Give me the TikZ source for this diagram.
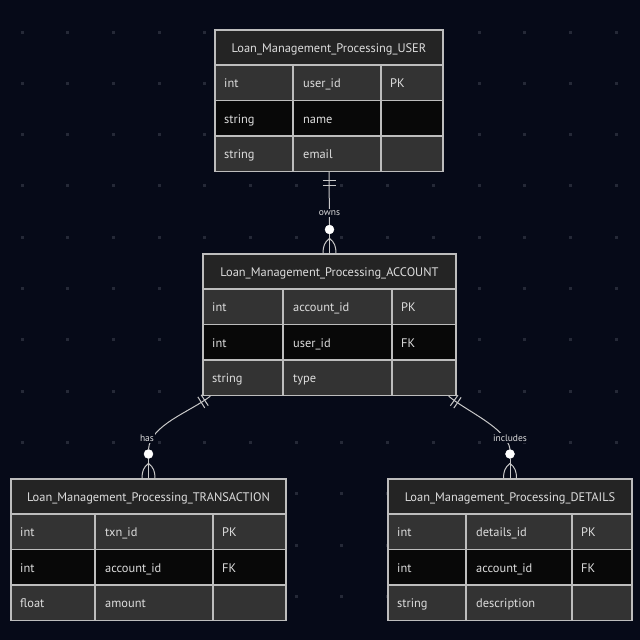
\documentclass[tikz,border=0pt]{standalone}
\usepackage{fontspec}
\setmainfont{PT Sans}
\usetikzlibrary{calc,fit,decorations.markings}
\definecolor{bgc}{HTML}{060A18}
\definecolor{dotc}{HTML}{252937}
\definecolor{hdrc}{HTML}{242424}
\definecolor{rowodd}{HTML}{333333}
\definecolor{roweven}{HTML}{080808}
\definecolor{bordc}{HTML}{BDBDBD}
\definecolor{txtc}{HTML}{DDDDDD}
\definecolor{linec}{HTML}{C8C8C8}
\tikzset{
  titletext/.style={text=txtc, font=\fontsize{12.4}{14}\selectfont, inner sep=0pt, anchor=base},
  celltext/.style={text=txtc, font=\fontsize{12.4}{14}\selectfont, inner sep=0pt, anchor=base west},
  gridline/.style={draw=bordc, line width=1.2pt},
  rel/.style={draw=linec, line width=1pt},
  rellabel/.style={text=txtc, font=\fontsize{9.5}{11}\selectfont, fill=bgc, inner sep=1.2pt},
  relcirc/.style={circle, fill=white, draw=white, minimum size=9pt, inner sep=0pt},
  onebars/.style={postaction={decorate}, decoration={markings,
     mark=at position 7pt with {\draw[rel] (0,-6.5pt) -- (0,6.5pt);},
     mark=at position 11pt with {\draw[rel] (0,-6.5pt) -- (0,6.5pt);}}}
}
% #1 id, #2 left, #3 col1, #4 col2, #5 right, #6 top, #7 title, #8 rows
\newcommand\erentity[8]{%
  \fill[hdrc] (#2,#6) rectangle (#5,#6+35);
  \node[titletext] (#1-title) at ({(#2+#5)/2},#6+22.5) {#7};
  \foreach \ta/\tb/\tc [count=\ri] in {#8} {%
    \pgfmathsetmacro\ytop{#6+35+(\ri-1)*35.5}
    \ifodd\ri \def\rowc{rowodd}\else\def\rowc{roweven}\fi
    \fill[fill=\rowc] (#2,\ytop) rectangle (#5,\ytop+35.5);
    \node[celltext] (#1-\ri-a) at (#2+9,\ytop+22.5) {\ta};
    \node[celltext] (#1-\ri-b) at (#3+10,\ytop+22.5) {\tb};
    \node[celltext] (#1-\ri-c) at (#4+9,\ytop+22.5) {\tc};
  }
  \draw[gridline] (#2,#6+35) -- (#5,#6+35)
     (#2,#6+70.5) -- (#5,#6+70.5)
     (#2,#6+106) -- (#5,#6+106)
     (#3,#6+35) -- (#3,#6+141.5)
     (#4,#6+35) -- (#4,#6+141.5);
  \node[inner sep=0pt, fit={(#2,#6) (#5,#6+141.5)}, draw=bordc, line width=1.3pt] (#1) {};
}
% crow's foot: #1 circle node, #2 target point
\newcommand\crowfoot[2]{%
  \draw[rel] (#1.south) -- (#2);
  \draw[rel] ($(#2)+(0,-15)$) .. controls +(-5,4) and +(0,-7) .. ($(#2)+(-6.5,0)$);
  \draw[rel] ($(#2)+(0,-15)$) .. controls +(5,4) and +(0,-7) .. ($(#2)+(6.5,0)$);
}
\begin{document}
\begin{tikzpicture}[x=1pt,y=-1pt]
\fill[bgc] (0,0) rectangle (640,640);
\useasboundingbox (0,0) rectangle (640,640);
% dot grid
\foreach \i in {0,...,13} {
  \foreach \j in {0,...,11} {
    \fill[dotc] ({22+\i*45.7-1.5},{32+\j*51.3-1.5}) rectangle +(3,3);
  }
}
% entities
\erentity{user}{215}{293}{381}{443}{30}{Loan\_Management\_Processing\_USER}
  {int/user\_id/PK, string/name/, string/email/}
\erentity{account}{203}{283}{392}{456}{254}{Loan\_Management\_Processing\_ACCOUNT}
  {int/account\_id/PK, int/user\_id/FK, string/type/}
\erentity{txn}{11}{95}{213}{286}{479}{Loan\_Management\_Processing\_TRANSACTION}
  {int/txn\_id/PK, int/account\_id/FK, float/amount/}
\erentity{details}{388}{466}{572}{632}{479}{Loan\_Management\_Processing\_DETAILS}
  {int/details\_id/PK, int/account\_id/FK, string/description/}
% owns
\node[relcirc] (ownsc) at (329.5,229.5) {};
\draw[rel] (user.south) -- (ownsc.north);
\draw[rel] ($(user.south)+(-6.5,8)$) -- ($(user.south)+(6.5,8)$);
\draw[rel] ($(user.south)+(-6.5,13)$) -- ($(user.south)+(6.5,13)$);
\node[rellabel] (ownsl) at (329.5,213) {owns};
\coordinate (acctop) at (account.north);
\crowfoot{ownsc}{acctop}
% has
\node[relcirc] (hasc) at (148.5,454) {};
\draw[rel, onebars] ($(account.south west)+(8,0)$) .. controls (190,412) and (150,425) .. (hasc.north);
\node[rellabel] (hasl) at (147,438) {has};
\coordinate (txntop) at (txn.north);
\crowfoot{hasc}{txntop}
% includes
\node[relcirc] (incc) at (510,454) {};
\draw[rel, onebars] ($(account.south east)+(-8,0)$) .. controls (466,411) and (507,428) .. (incc.north);
\node[rellabel] (incl) at (510,438) {includes};
\coordinate (dettop) at (details.north);
\crowfoot{incc}{dettop}
\end{tikzpicture}
\end{document}
